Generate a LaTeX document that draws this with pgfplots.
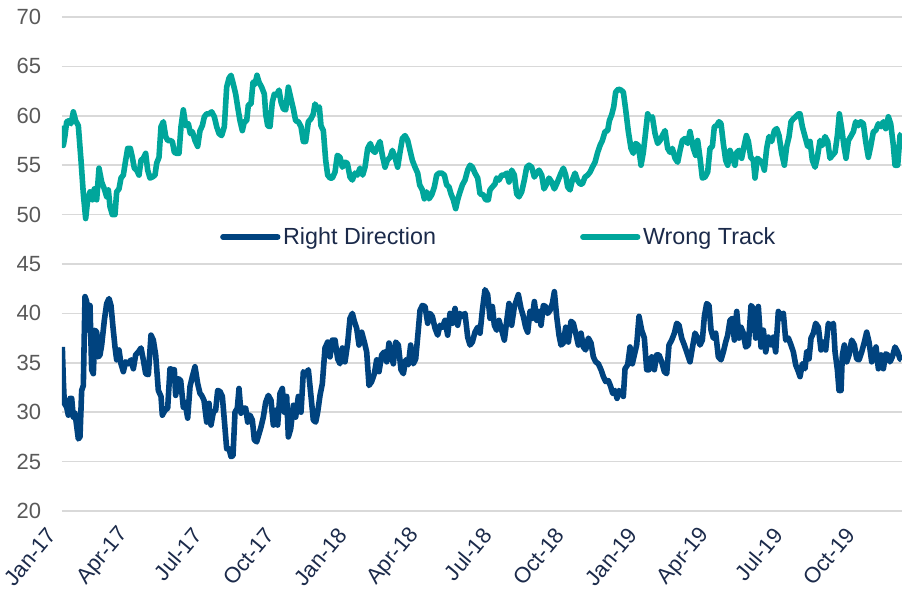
\documentclass[border=0pt]{standalone}
\usepackage{fontspec}
\setmainfont{Liberation Sans}
\usepackage{pgfplots}
\usepackage{pgfplotstable}
\pgfplotsset{compat=1.18}
\definecolor{wt}{HTML}{00A69B}
\definecolor{rd}{HTML}{00437F}
\definecolor{ylab}{HTML}{595959}
\definecolor{xlab}{HTML}{1B2A4A}
\definecolor{gridc}{HTML}{D9D9D9}

% u = horizontal position in 1/3-pixel units of the 902px reference; month = (u-186)/72.6
\pgfplotstableread{
u y
187 59.0
190 57.0
195 58.0
200 59.4
207 59.5
213 59.2
220 60.4
227 59.5
235 59.0
243 55.5
250 52.1
257 49.6
263 51.5
270 52.3
277 51.5
283 52.6
290 51.5
297 54.7
305 53.3
313 52.6
320 51.8
325 52.5
330 50.8
337 50.0
345 50.0
350 52.3
357 52.6
363 53.7
370 54.0
377 55.5
383 56.7
391 56.7
397 55.8
403 54.7
410 54.5
417 54.0
423 55.5
430 55.7
437 56.2
443 54.5
450 53.7
457 53.8
465 54.0
470 55.2
477 55.8
483 58.9
490 59.4
497 57.9
503 57.5
510 57.5
517 57.4
523 56.3
530 56.2
537 56.2
543 58.9
550 60.6
557 59.0
565 59.2
571 58.2
577 58.4
585 57.5
593 56.9
600 58.5
607 59.0
613 59.9
620 60.2
627 60.2
635 60.4
643 59.9
650 58.9
657 58.2
665 58.0
673 58.9
680 62.9
687 63.8
693 64.1
700 63.2
707 62.2
713 60.9
720 59.5
727 58.5
733 59.4
740 59.5
745 61.1
753 61.2
759 63.4
765 63.2
771 64.1
777 63.4
785 62.9
793 62.2
797 60.2
803 59.0
810 58.9
817 61.4
823 62.2
830 62.1
837 62.6
843 61.4
850 60.7
857 60.6
865 62.9
873 61.7
880 60.7
887 59.5
895 59.4
903 58.9
910 57.4
917 57.4
925 59.4
933 59.7
940 60.2
945 61.2
952 60.7
958 60.9
963 59.0
970 58.5
977 55.5
983 54.0
990 53.7
997 53.7
1005 54.3
1012 56.0
1020 55.8
1027 54.8
1035 55.3
1042 55.2
1050 53.8
1057 53.5
1065 54.2
1072 54.0
1080 54.7
1088 54.0
1095 54.8
1103 56.7
1111 57.2
1118 56.5
1125 56.3
1133 56.9
1140 57.4
1147 56.0
1155 54.8
1162 55.5
1170 55.8
1177 56.5
1185 55.8
1193 54.8
1200 56.3
1207 57.7
1215 58.0
1223 57.5
1230 56.5
1237 55.5
1245 54.8
1253 54.2
1259 53.0
1267 52.5
1273 51.6
1280 52.3
1287 51.6
1295 52.0
1303 52.8
1310 54.0
1317 54.2
1325 54.2
1333 54.0
1340 53.0
1347 52.8
1353 52.1
1360 51.5
1367 50.6
1373 51.5
1380 52.3
1387 53.0
1395 53.5
1403 54.5
1410 55.0
1417 54.8
1425 54.2
1433 53.7
1440 52.1
1450 52.0
1457 51.5
1465 51.5
1470 52.5
1477 52.8
1485 53.1
1490 53.7
1497 53.5
1505 54.0
1513 54.0
1520 54.2
1527 53.3
1535 54.5
1543 54.0
1550 52.1
1557 51.8
1565 52.3
1573 53.5
1580 54.8
1587 55.0
1595 54.8
1603 53.8
1610 54.2
1617 54.5
1625 54.0
1632 52.6
1640 53.1
1647 53.7
1655 53.3
1663 52.6
1670 53.1
1677 53.7
1683 54.2
1690 54.7
1697 54.0
1703 52.8
1710 52.5
1717 53.5
1725 54.2
1732 53.5
1740 53.1
1747 53.1
1755 53.8
1763 54.0
1770 54.3
1777 54.8
1785 55.3
1793 56.3
1800 57.0
1807 57.5
1815 58.4
1823 58.5
1828 59.5
1835 60.1
1841 60.9
1847 62.4
1855 62.7
1863 62.6
1870 62.4
1877 60.6
1885 58.4
1893 56.7
1900 56.2
1907 57.2
1915 57.0
1923 55.0
1930 56.3
1937 58.4
1943 60.2
1950 59.7
1957 59.9
1965 58.2
1973 57.2
1980 57.5
1987 58.0
1995 58.5
2003 56.7
2010 56.3
2017 56.7
2025 55.7
2033 55.3
2040 56.5
2047 57.5
2055 57.7
2063 57.2
2070 58.4
2080 56.7
2087 56.0
2093 57.5
2100 55.7
2107 53.7
2115 53.8
2123 54.3
2130 56.7
2137 56.9
2143 58.9
2150 59.0
2157 59.4
2163 59.2
2170 57.2
2177 55.5
2183 55.0
2190 56.5
2197 55.8
2205 55.0
2210 56.3
2217 56.5
2225 55.7
2232 56.9
2239 58.0
2245 57.4
2252 55.8
2260 55.5
2265 53.7
2272 55.7
2279 55.5
2287 55.2
2293 54.5
2300 56.7
2307 57.9
2315 57.4
2323 58.5
2330 58.7
2337 58.0
2345 56.2
2353 55.0
2360 56.9
2367 57.9
2373 59.4
2380 59.7
2387 59.9
2395 60.2
2400 60.2
2407 58.9
2415 57.9
2423 56.9
2430 57.4
2437 55.5
2445 54.8
2452 55.8
2460 57.5
2467 57.0
2475 57.9
2483 57.4
2490 55.7
2497 56.0
2505 56.3
2512 58.0
2518 60.2
2525 58.7
2532 56.9
2538 55.7
2545 57.5
2552 57.9
2560 58.4
2567 59.4
2575 59.0
2582 59.4
2590 59.2
2597 57.4
2605 55.8
2612 56.9
2620 58.4
2627 58.5
2635 59.2
2643 58.9
2650 59.4
2657 58.7
2665 59.9
2672 59.2
2680 57.0
2685 55.0
2693 55.0
2700 58.0
2705 58.2
}\wttable

\pgfplotstableread{
u y
187 36.6
190 33.2
193 30.9
200 30.5
205 29.7
210 31.4
215 31.4
220 29.5
225 29.9
230 28.6
235 27.3
240 27.5
245 32.2
250 32.7
255 41.7
260 41.2
265 38.3
270 40.8
275 34.3
280 33.9
285 38.3
290 38.1
295 35.6
300 35.8
305 36.8
313 39.3
320 41.0
327 41.5
333 40.8
339 38.6
345 36.6
350 35.3
357 36.3
363 34.9
370 34.1
377 35.1
385 34.9
393 35.3
400 34.4
407 35.8
415 36.1
423 36.5
430 35.3
437 33.9
445 33.8
453 37.8
460 37.3
467 35.8
475 32.2
483 31.6
487 29.7
495 30.2
503 30.4
510 34.4
517 34.3
523 34.3
527 31.7
535 33.4
542 33.2
550 30.5
555 31.0
563 29.4
570 32.6
577 33.6
585 34.6
593 32.9
600 31.9
605 31.7
612 31.2
620 29.0
627 30.9
633 28.7
640 30.0
647 30.2
653 32.2
660 32.1
667 31.6
673 29.2
680 26.3
687 26.3
693 25.5
699 25.6
705 30.0
712 30.4
717 32.4
723 29.9
730 30.4
737 30.4
743 29.0
750 29.7
757 29.2
763 27.2
770 27.0
777 27.8
783 28.5
790 29.5
797 31.0
805 31.7
813 31.2
820 28.7
827 30.2
833 28.7
840 31.9
847 32.4
853 30.0
860 31.6
865 27.5
872 28.3
880 30.7
887 29.5
895 31.6
903 30.0
910 34.1
917 33.8
925 34.3
933 31.6
940 29.2
947 29.0
953 30.0
960 31.7
967 32.9
975 36.5
983 37.1
990 35.6
997 37.3
1005 37.3
1013 35.4
1020 34.9
1027 36.5
1035 35.1
1043 37.0
1050 39.5
1057 40.0
1063 39.2
1070 38.5
1077 36.8
1085 38.1
1093 37.1
1100 36.1
1107 32.7
1115 33.1
1123 33.9
1130 35.3
1137 34.1
1145 35.8
1153 36.1
1160 35.1
1167 37.0
1173 35.9
1180 34.9
1187 37.1
1195 36.8
1203 34.3
1210 33.9
1217 35.3
1225 34.8
1232 36.8
1240 34.9
1247 35.4
1253 37.6
1260 40.3
1267 40.8
1275 40.7
1283 39.0
1290 40.0
1297 39.7
1305 38.5
1313 37.8
1320 38.8
1327 38.6
1335 39.3
1343 37.8
1350 40.0
1357 39.0
1365 40.5
1373 38.8
1380 40.0
1387 39.7
1395 40.0
1403 37.6
1410 36.8
1417 37.1
1425 38.1
1433 38.6
1440 38.0
1447 40.3
1455 42.4
1463 41.9
1470 39.5
1477 40.7
1483 38.8
1490 38.3
1497 39.3
1505 38.3
1513 37.3
1520 39.2
1527 41.0
1535 38.8
1543 40.7
1550 41.4
1555 41.9
1563 40.5
1570 39.7
1577 38.6
1583 38.1
1590 40.2
1597 39.5
1603 41.2
1610 39.3
1617 40.2
1623 38.8
1630 40.8
1637 40.7
1643 40.0
1650 40.3
1657 41.0
1663 42.2
1670 39.7
1677 37.8
1683 36.8
1690 37.0
1697 38.6
1705 37.1
1713 39.2
1720 39.0
1727 38.0
1735 36.8
1743 38.0
1750 36.6
1757 36.3
1765 37.5
1773 37.0
1780 35.6
1787 35.1
1795 34.9
1803 34.3
1810 33.6
1817 33.1
1825 33.2
1832 32.6
1838 31.9
1845 32.2
1851 31.4
1857 32.2
1865 31.9
1870 31.6
1875 34.4
1883 34.8
1890 36.6
1897 34.9
1903 35.8
1910 36.8
1917 39.7
1925 38.3
1933 37.5
1940 34.3
1947 34.3
1955 35.6
1963 34.3
1970 35.8
1977 35.8
1985 35.1
1993 34.1
2000 33.9
2007 36.8
2015 37.3
2023 38.0
2030 39.0
2037 38.8
2045 37.5
2053 36.8
2060 36.1
2070 35.1
2077 36.5
2085 38.0
2093 37.5
2100 36.8
2107 37.3
2113 39.7
2120 41.0
2127 40.8
2133 38.3
2140 37.5
2147 38.0
2155 35.6
2163 35.3
2170 36.1
2177 37.1
2183 37.8
2190 39.3
2197 39.5
2203 37.3
2210 40.2
2217 37.5
2223 38.6
2230 38.0
2237 36.6
2245 36.8
2253 40.8
2260 40.5
2267 37.5
2275 40.7
2283 36.6
2290 38.3
2297 36.1
2305 37.6
2313 36.8
2320 37.6
2327 36.1
2335 40.2
2343 39.5
2350 40.0
2357 37.3
2365 37.5
2373 36.8
2380 36.1
2387 34.8
2395 34.1
2400 33.6
2407 34.9
2415 34.4
2420 36.1
2427 35.4
2433 37.5
2440 38.0
2447 39.0
2455 38.6
2463 36.3
2470 37.1
2477 36.3
2485 39.0
2492 38.6
2500 39.0
2505 36.1
2512 34.3
2517 32.2
2523 32.2
2527 35.8
2533 36.8
2540 35.1
2547 35.8
2555 37.3
2563 36.8
2570 35.4
2577 35.3
2585 36.1
2593 37.1
2600 38.1
2607 37.1
2615 35.1
2622 35.9
2628 36.6
2635 34.4
2643 35.8
2650 34.4
2657 35.9
2663 35.8
2670 35.1
2677 35.6
2685 36.6
2693 36.1
2700 35.4
2705 35.3
}\rdtable

\begin{document}
\begin{tikzpicture}
\begin{axis}[
  at={(0pt,0pt)}, anchor=south west,
  scale only axis, width=630pt, height=370.5pt,
  xmin=0, xmax=34.71, ymin=20, ymax=70,
  ytick={20,25,...,70},
  xtick={0,3,...,33},
  xticklabels={Jan-17,Apr-17,Jul-17,Oct-17,Jan-18,Apr-18,Jul-18,Oct-18,Jan-19,Apr-19,Jul-19,Oct-19},
  axis line style={draw=none},
  major tick length=0pt,
  ymajorgrids, grid style={draw=gridc, line width=1.3pt},
  /pgf/number format/assume math mode=true,
  yticklabel style={font=\fontsize{16.5}{19}\selectfont, text=ylab, inner sep=0pt, xshift=-15.5pt},
  xticklabel style={font=\fontsize{16.5}{19}\selectfont, text=xlab, xshift=-7.5pt, yshift=-15pt, rotate=50, anchor=east, inner sep=0pt},
  legend columns=2,
  legend style={at={(0.188,0.5547)}, anchor=west, draw=none, fill=none, inner sep=0pt,
    font=\fontsize{17.5}{20}\selectfont, text=xlab,
    nodes={inner sep=2pt}},
  legend image code/.code={\draw[#1, line cap=round] (0pt,0pt) -- (41pt,0pt);},
  every axis plot/.append style={line width=4.2pt, line join=round},
]
\addplot[rd, mark=none] table[x expr=(\thisrow{u}-186)/72.6, y=y] {\rdtable};
\addlegendentry{Right Direction\kern106pt\null}
\addplot[wt, mark=none] table[x expr=(\thisrow{u}-186)/72.6, y=y] {\wttable};
\addlegendentry{Wrong Track}
\end{axis}
\pgfresetboundingbox
\useasboundingbox (-46.5pt,-61.5pt) rectangle (630pt,383.25pt);
\end{tikzpicture}
\end{document}
